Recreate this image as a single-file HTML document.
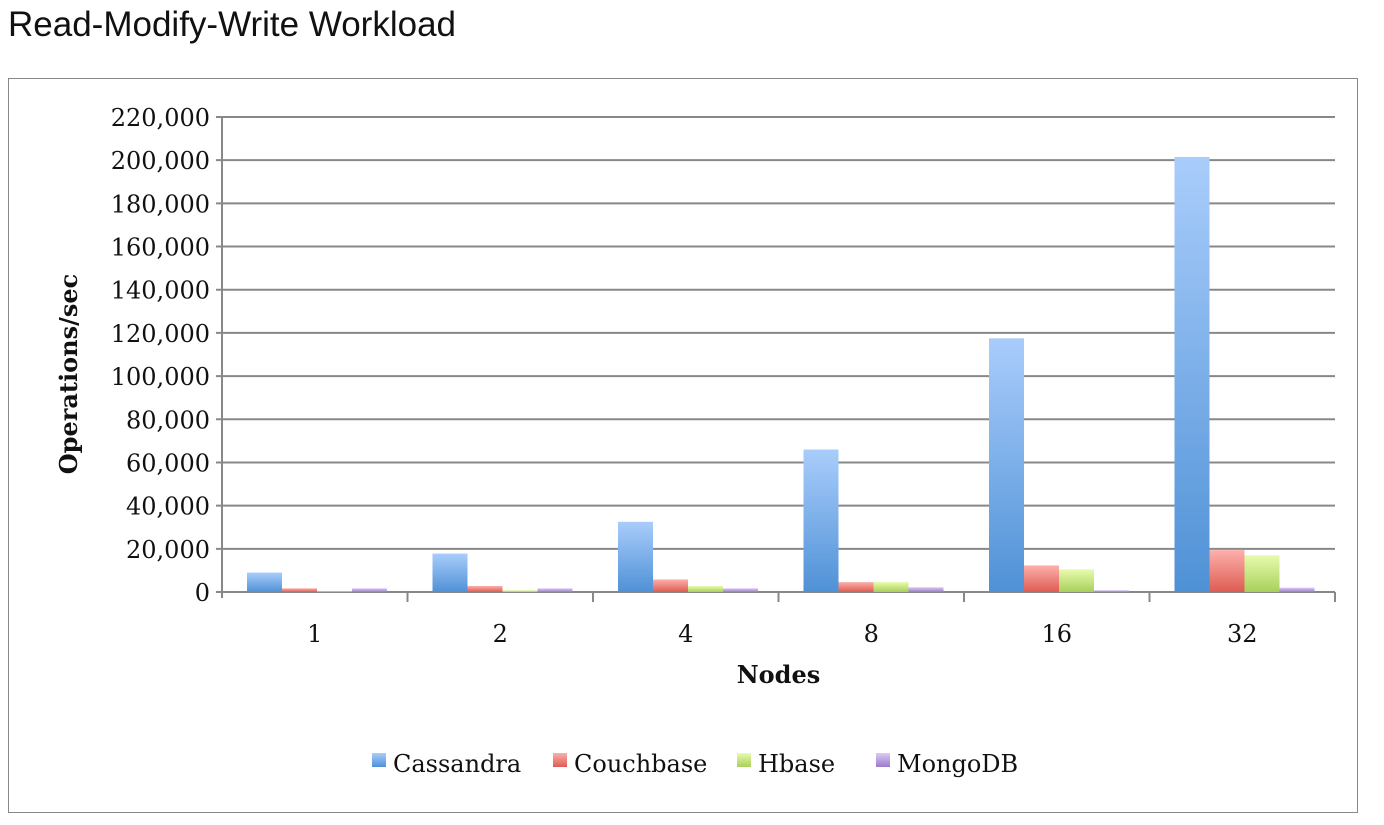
<!DOCTYPE html>
<html><head><meta charset="utf-8"><style>
body{margin:0;background:#fff;width:1384px;height:825px;overflow:hidden;font-family:"DejaVu Serif",serif}
#title{position:absolute;left:8px;top:5px;font:35px "Liberation Sans",sans-serif;color:#111}
#box{position:absolute;left:8px;top:78px;width:1348px;height:733px;border:1px solid #888}
</style></head><body>
<div id="title">Read-Modify-Write Workload</div>
<div id="box"></div>
<svg id="chart" width="1384" height="825" style="position:absolute;left:0;top:0">
<defs>
<linearGradient id="gC" x1="0" y1="0" x2="0" y2="1"><stop offset="0" stop-color="#a9cdfb"/><stop offset="1" stop-color="#4f91d6"/></linearGradient>
<linearGradient id="gB" x1="0" y1="0" x2="0" y2="1"><stop offset="0" stop-color="#fdb0ab"/><stop offset="1" stop-color="#dd5c52"/></linearGradient>
<linearGradient id="gH" x1="0" y1="0" x2="0" y2="1"><stop offset="0" stop-color="#e8fbad"/><stop offset="1" stop-color="#a8d05a"/></linearGradient>
<linearGradient id="gM" x1="0" y1="0" x2="0" y2="1"><stop offset="0" stop-color="#dccaf5"/><stop offset="1" stop-color="#9a7cc9"/></linearGradient>
</defs>
</svg>
<script>
const categories=["1","2","4","8","16","32"];
const cassandra=[9000,17800,32500,66000,117500,201500];
const couchbase=[1700,2800,5800,4600,12300,19400];
const hbase=[300,800,2800,4600,10500,17000];
const mongodb=[1700,1700,1700,2200,800,2000];
const seriesNames=["Cassandra","Couchbase","Hbase","MongoDB"];
const yTicks=[0,20000,40000,60000,80000,100000,120000,140000,160000,180000,200000,220000];

const svg=document.getElementById('chart');
const NS='http://www.w3.org/2000/svg';
const X0=222,X1=1335,Y0=592,Y1=117,YMAX=220000;
const y=v=>Y0-(v/YMAX)*(Y0-Y1);
const gw=(X1-X0)/categories.length;
const bw=35,off=25;
function mk(t,a){const e=document.createElementNS(NS,t);for(const k in a)e.setAttribute(k,a[k]);svg.appendChild(e);return e;}
yTicks.forEach(t=>{
 const l=mk('line',{x1:X0-6,x2:X1,y1:y(t),y2:y(t),stroke:'#888','stroke-width':2});
 
 
 const tx=mk('text',{x:X0-12,y:y(t)+9,'text-anchor':'end','font-size':24,fill:'#111'});
 tx.textContent=t.toLocaleString('en-US');
 
 
});
const ax=mk('line',{x1:X0,x2:X0,y1:Y1,y2:Y0+6,stroke:'#888','stroke-width':2});


const series=[cassandra,couchbase,hbase,mongodb];
const fills=['url(#gC)','url(#gB)','url(#gH)','url(#gM)'];
categories.forEach((c,i)=>{
 const gx=X0+i*gw;
 const tk=mk('line',{x1:gx+gw,x2:gx+gw,y1:Y0,y2:Y0+10,stroke:'#888','stroke-width':2});
 
 
 const tl=mk('text',{x:gx+gw/2,y:Y0+50,'text-anchor':'middle','font-size':24,fill:'#111'});
 tl.textContent=c;
 
 
 series.forEach((s,j)=>{
  const r=mk('rect',{x:gx+off+j*bw,y:y(s[i]),width:bw,height:Y0-y(s[i]),fill:fills[j]});
  
  
 });
});
const xt=mk('text',{x:(X0+X1)/2,y:683,'text-anchor':'middle','font-size':24,'font-weight':'bold',fill:'#111'});
xt.textContent='Nodes';


const yt=mk('text',{x:0,y:0,'text-anchor':'middle','font-size':24,'font-weight':'bold',fill:'#111',transform:'translate(77,374) rotate(-90)'});
yt.textContent='Operations/sec';


const lx=[372,553,737,876];
seriesNames.forEach((n,j)=>{
 const r=mk('rect',{x:lx[j],y:753,width:14,height:14,fill:fills[j]});
 
 
 const t=mk('text',{x:lx[j]+21,y:772,'font-size':24,fill:'#111'});
 t.textContent=n;
 
 
});
</script>
</body></html>
